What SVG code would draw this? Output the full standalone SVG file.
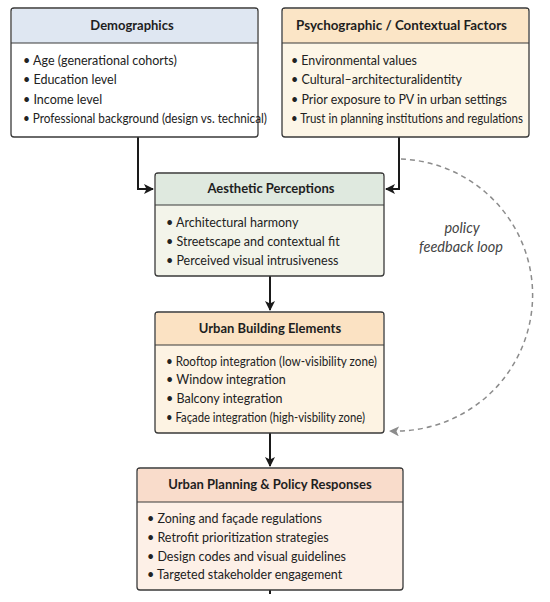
<svg xmlns="http://www.w3.org/2000/svg" width="550" height="602" viewBox="0 0 550 602">
<style>
.box{stroke:#3a3a3a;stroke-width:1.3}
.sep{stroke:#3a3a3a;stroke-width:1.2}
.hd{font-family:Lato,"Liberation Sans",sans-serif;font-weight:bold;font-size:13px;fill:#1e1e1e;text-anchor:middle}
.bt{font-family:Lato,"Liberation Sans",sans-serif;font-size:12.5px;fill:#222}
.con{fill:none;stroke:#1a1a1a;stroke-width:2}
.dash{fill:none;stroke:#8c8c8c;stroke-width:1.5;stroke-dasharray:5 4}
.lbl{font-family:Lato,"Liberation Sans",sans-serif;font-style:italic;font-size:14.5px;fill:#444;text-anchor:middle}
</style>
<defs>
<marker id="ah" markerWidth="10" markerHeight="10" refX="9" refY="5" orient="auto" markerUnits="userSpaceOnUse">
<path d="M0,0 L10,5 L0,10 L2.5,5 Z" fill="#1a1a1a"/>
</marker>
<marker id="ahg" markerWidth="10" markerHeight="10" refX="9" refY="5" orient="auto" markerUnits="userSpaceOnUse">
<path d="M0,0 L10,5 L0,10 L2.5,5 Z" fill="#8c8c8c"/>
</marker>
</defs>
<rect width="550" height="602" fill="#ffffff"/>

<g id="connectors">
<path class="con" d="M138,137 V189 H153" marker-end="url(#ah)"/>
<path class="con" d="M399,137 V189 H386" marker-end="url(#ah)"/>
<path class="con" d="M270,276 V310" marker-end="url(#ah)"/>
<path class="con" d="M270,433 V466" marker-end="url(#ah)"/>
<path class="con" d="M270,590 V594"/>
<path class="dash" d="M401,159 A137,136 0 0 1 390,431" marker-end="url(#ahg)"/>
<text class="lbl" x="462" y="233">policy</text>
<text class="lbl" x="461" y="252">feedback loop</text>
</g>

<g id="demographics">
<rect class="box" x="11" y="8" width="247" height="129" rx="3" fill="#ffffff"/>
<path d="M12,9 H257 V43 H12 Z" fill="#dfe7f2"/>
<line class="sep" x1="11" y1="43" x2="258" y2="43"/>
<text class="hd" x="132" y="30">Demographics</text>
<text class="bt" x="23" y="64.5">• Age (generational cohorts)</text>
<text class="bt" x="23" y="84">• Education level</text>
<text class="bt" x="23" y="103.5">• Income level</text>
<text class="bt" x="23" y="122.5" textLength="244" lengthAdjust="spacingAndGlyphs">• Professional background (design vs. technical)</text>
</g>

<g id="psychographic">
<rect class="box" x="282" y="8" width="247" height="129" rx="3" fill="#fdf6e7"/>
<path d="M283,9 H528 V43 H283 Z" fill="#fbe5c6"/>
<line class="sep" x1="282" y1="43" x2="529" y2="43"/>
<text class="hd" x="401.5" y="30" textLength="211" lengthAdjust="spacingAndGlyphs">Psychographic / Contextual Factors</text>
<text class="bt" x="291" y="64.5" textLength="126" lengthAdjust="spacingAndGlyphs">• Environmental values</text>
<text class="bt" x="291" y="84" textLength="171" lengthAdjust="spacingAndGlyphs">• Cultural–architecturalidentity</text>
<text class="bt" x="291" y="103.5" textLength="216" lengthAdjust="spacingAndGlyphs">• Prior exposure to PV in urban settings</text>
<text class="bt" x="291" y="122.5" textLength="232" lengthAdjust="spacingAndGlyphs">• Trust in planning institutions and regulations</text>
</g>

<g id="aesthetic">
<rect class="box" x="155" y="173" width="229" height="103" rx="3" fill="#f3f4ea"/>
<path d="M156,174 H383 V205 H156 Z" fill="#dfe9df"/>
<line class="sep" x1="155" y1="205" x2="384" y2="205"/>
<text class="hd" x="271" y="193">Aesthetic Perceptions</text>
<text class="bt" x="166" y="226.5">• Architectural harmony</text>
<text class="bt" x="166" y="245.5">• Streetscape and contextual fit</text>
<text class="bt" x="166" y="264.5">• Perceived visual intrusiveness</text>
</g>

<g id="urban-building">
<rect class="box" x="155" y="312" width="229" height="121" rx="3" fill="#fdf3e3"/>
<path d="M156,313 H383 V345 H156 Z" fill="#fbe2c3"/>
<line class="sep" x1="155" y1="345" x2="384" y2="345"/>
<text class="hd" x="270" y="333">Urban Building Elements</text>
<text class="bt" x="166" y="365.5" textLength="211" lengthAdjust="spacingAndGlyphs">• Rooftop integration (low-visibility zone)</text>
<text class="bt" x="166" y="384">• Window integration</text>
<text class="bt" x="166" y="402.5">• Balcony integration</text>
<text class="bt" x="166" y="421.5" textLength="199" lengthAdjust="spacingAndGlyphs">• Façade integration (high-visbility zone)</text>
</g>

<g id="policy">
<rect class="box" x="137" y="468" width="266" height="122" rx="3" fill="#fdf0e7"/>
<path d="M138,469 H402 V502 H138 Z" fill="#f9dccb"/>
<line class="sep" x1="137" y1="502" x2="403" y2="502"/>
<text class="hd" x="270" y="489">Urban Planning &amp; Policy Responses</text>
<text class="bt" x="147" y="522.5">• Zoning and façade regulations</text>
<text class="bt" x="147" y="541.5">• Retrofit prioritization strategies</text>
<text class="bt" x="147" y="560.5">• Design codes and visual guidelines</text>
<text class="bt" x="147" y="579">• Targeted stakeholder engagement</text>
</g>
</svg>
